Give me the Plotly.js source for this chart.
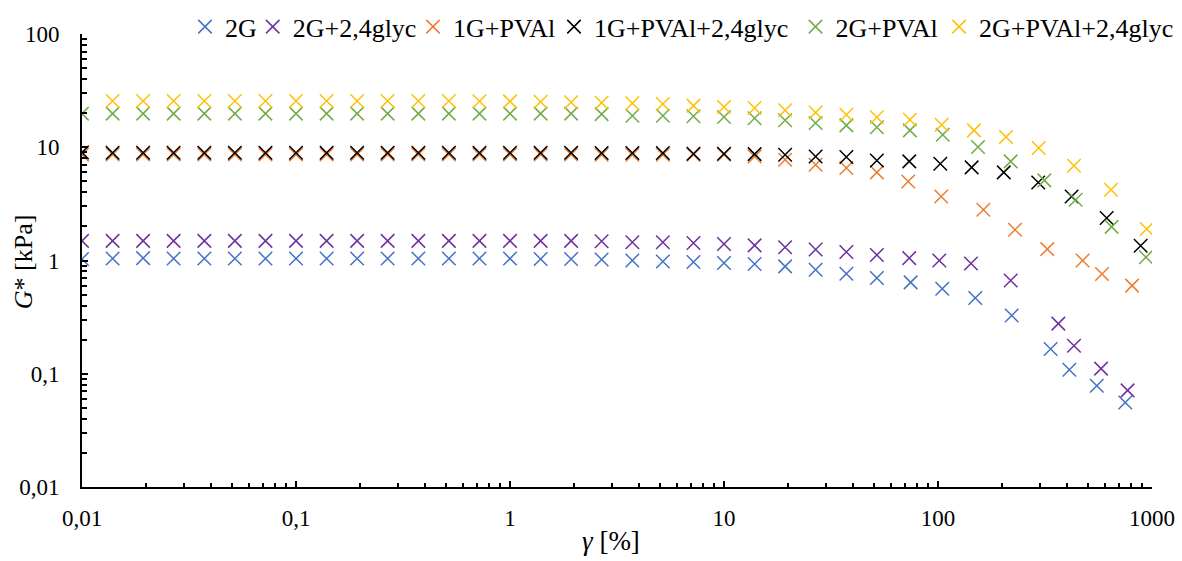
<!DOCTYPE html>
<html>
<head>
<meta charset="utf-8">
<script src="https://cdn.plot.ly/plotly-3.0.1.min.js"></script>
<style>
  html, body { margin: 0; padding: 0; background: #fff; }
  #chart { width: 1182px; height: 561px; }
</style>
</head>
<body>
<div id="chart"></div>
<script>
// Strain amplitude gamma [%] shared by all samples in the linear part (i = 0..26)
const gammaBase = [0.01, 0.0139, 0.0193, 0.0268, 0.0373, 0.0518, 0.072, 0.1, 0.139, 0.193,
  0.268, 0.373, 0.518, 0.72, 1, 1.39, 1.93, 2.68, 3.73, 5.18, 7.2, 10, 13.9, 19.3, 26.8, 37.3, 51.8];

// Measured strain at large amplitudes (differs per sample)
const gammaTail_2G        = [74.5, 104.7, 149.3, 221, 336, 411, 552, 750];
const gammaTail_2Gglyc    = [73.4, 101.4, 142.6, 218.6, 365, 432, 578, 769];
const gammaTail_1GPVAl    = [72.6, 103.5, 162.9, 229, 324, 474, 584, 807];
const gammaTail_1GPVAlgly = [73.4, 102.5, 143.6, 202.9, 294, 421, 614, 885];
const gammaTail_2GPVAl    = [73.9, 105.2, 153.8, 218.6, 314, 440, 648, 937];
const gammaTail_2GPVAlgly = [73.9, 104, 147.3, 207.9, 295.6, 432, 643, 944];

// G* [kPa]
const g_2G = [1.03, 1.04, 1.05, 1.04, 1.04, 1.04, 1.04, 1.04, 1.04, 1.04, 1.04, 1.04, 1.04, 1.04, 1.04, 1.03, 1.03,
  1.02, 1.0, 0.98, 0.97, 0.95, 0.93, 0.887, 0.83, 0.764, 0.70,
  0.641, 0.564, 0.467, 0.327, 0.1655, 0.1086, 0.0784, 0.0558];
const g_2Gglyc = [1.49, 1.49, 1.49, 1.49, 1.49, 1.49, 1.49, 1.49, 1.49, 1.49, 1.49, 1.49, 1.49, 1.49, 1.49, 1.49, 1.49,
  1.48, 1.45, 1.45, 1.43, 1.40, 1.36, 1.31, 1.25, 1.19, 1.12,
  1.05, 1.0, 0.94, 0.667, 0.277, 0.177, 0.111, 0.0713];
const g_1GPVAl = [8.6, 8.65, 8.65, 8.65, 8.65, 8.65, 8.65, 8.65, 8.65, 8.65, 8.65, 8.65, 8.65, 8.65, 8.65, 8.65, 8.65,
  8.6, 8.6, 8.6, 8.6, 8.6, 8.3, 7.76, 7.0, 6.56, 6.0,
  4.99, 3.68, 2.81, 1.87, 1.26, 1.0, 0.76, 0.60];
const g_1GPVAlgly = [9.0, 8.95, 8.95, 8.95, 8.95, 8.95, 8.95, 8.95, 8.95, 8.95, 8.95, 8.95, 8.95, 8.95, 8.95, 8.95, 8.95,
  8.9, 8.9, 8.9, 8.77, 8.77, 8.7, 8.6, 8.3, 8.2, 7.65,
  7.5, 7.16, 6.64, 6.0, 4.89, 3.68, 2.37, 1.35];
const g_2GPVAl = [19.8, 19.8, 19.8, 19.8, 19.8, 19.8, 19.8, 19.8, 19.8, 19.8, 19.8, 19.8, 19.8, 19.8, 19.8, 19.8, 19.8,
  19.6, 19.0, 19.0, 18.8, 18.5, 18.0, 17.3, 16.4, 15.6, 15.0,
  14.1, 12.9, 10.05, 7.5, 5.1, 3.44, 1.98, 1.07];
// this sample has no point at gamma = 0.01 (starts at the 2nd strain)
const g_2GPVAlgly = [25.6, 25.6, 25.6, 25.6, 25.6, 25.6, 25.6, 25.6, 25.6, 25.6, 25.6, 25.6, 25.5, 25.4, 25.2, 25.0,
  24.7, 24.5, 24.1, 23.3, 22.7, 22.2, 21.2, 20.3, 19.4, 18.4,
  17.5, 15.8, 14.1, 12.3, 9.85, 6.87, 4.22, 1.90];

const seriesNames = ['2G', '2G+2,4glyc', '1G+PVAl', '1G+PVAl+2,4glyc', '2G+PVAl', '2G+PVAl+2,4glyc'];
const seriesColors = ['#4472C4', '#7030A0', '#ED7D31', '#000000', '#70AD47', '#FFC000'];

const tickVals = [0.01, 0.1, 1, 10, 100, 1000];
const tickText = ['0,01', '0,1', '1', '10', '100', '1000'];

const seriesX = [
  gammaBase.concat(gammaTail_2G),
  gammaBase.concat(gammaTail_2Gglyc),
  gammaBase.concat(gammaTail_1GPVAl),
  gammaBase.concat(gammaTail_1GPVAlgly),
  gammaBase.concat(gammaTail_2GPVAl),
  gammaBase.slice(1).concat(gammaTail_2GPVAlgly)
];
const seriesY = [g_2G, g_2Gglyc, g_1GPVAl, g_1GPVAlgly, g_2GPVAl, g_2GPVAlgly];

const legendIds = ['legend', 'legend2', 'legend3', 'legend4', 'legend5', 'legend6'];

const traces = seriesNames.map((name, k) => ({
  type: 'scatter',
  mode: 'markers',
  name: name,
  legend: legendIds[k],
  x: seriesX[k],
  y: seriesY[k],
  marker: {
    symbol: 'x-thin',
    size: 13.5,
    color: seriesColors[k],
    line: { color: seriesColors[k], width: 1.5 }
  },
  hoverinfo: 'x+y+name'
}));

// minor tick positions (2..9 in each decade)
function minorTicks(lo, hi) {
  const out = [];
  for (let d = lo; d < hi; d++) {
    for (let m = 2; m <= 9; m++) out.push(m * Math.pow(10, d));
  }
  return out;
}

const font = 'Liberation Serif, Times New Roman, serif';
const plotL = 82, plotW = 1070, plotB = 487.3, plotH = 453;

// left edge (px) of each legend entry
const legendLeftPx = [185, 252.7, 413, 554, 795.5, 939];

const layout = {
  width: 1182,
  height: 561,
  margin: { l: plotL, r: 30, t: 34, b: 74, autoexpand: false },
  paper_bgcolor: '#ffffff',
  plot_bgcolor: '#ffffff',
  font: { family: font, size: 23, color: '#000' },
  showlegend: true,
  xaxis: {
    type: 'log',
    range: [-2, 3],
    tickmode: 'array',
    tickvals: tickVals,
    ticktext: tickText,
    ticks: 'inside',
    ticklen: 6,
    tickwidth: 1.5,
    tickcolor: '#000',
    ticklabelstandoff: 9,
    showline: true,
    linecolor: '#000',
    linewidth: 2,
    showgrid: false,
    zeroline: false,
    automargin: false,
    tickfont: { family: font, size: 23, color: '#000' },
    minor: {
      tickmode: 'array',
      tickvals: minorTicks(-2, 3),
      ticks: 'inside',
      ticklen: 4,
      tickwidth: 1.5,
      tickcolor: '#000',
      showgrid: false
    }
  },
  yaxis: {
    type: 'log',
    range: [-2, 2],
    tickmode: 'array',
    tickvals: tickVals.slice(0, 5),
    ticktext: tickText.slice(0, 5),
    ticks: 'inside',
    ticklen: 6,
    tickwidth: 1.5,
    tickcolor: '#000',
    ticklabelstandoff: 16,
    showline: true,
    linecolor: '#000',
    linewidth: 2,
    showgrid: false,
    zeroline: false,
    automargin: false,
    tickfont: { family: font, size: 23, color: '#000' },
    minor: {
      tickmode: 'array',
      tickvals: minorTicks(-2, 2),
      ticks: 'inside',
      ticklen: 5,
      tickwidth: 1.5,
      tickcolor: '#000',
      showgrid: false
    }
  },
  annotations: [
    {
      text: '<i>γ</i> [%]',
      xref: 'paper', yref: 'paper',
      x: (611 - plotL) / plotW, xanchor: 'center',
      y: (plotB - 541) / plotH, yanchor: 'middle',
      showarrow: false,
      font: { family: font, size: 27, color: '#000' }
    },
    {
      text: '<i>G</i>* [kPa]',
      xref: 'paper', yref: 'paper',
      x: (23 - plotL) / plotW, xanchor: 'center',
      y: (plotB - 262.5) / plotH, yanchor: 'middle',
      textangle: -90,
      showarrow: false,
      font: { family: font, size: 26, color: '#000' }
    }
  ]
};

legendIds.forEach((id, k) => {
  layout[id] = {
    orientation: 'h',
    x: (legendLeftPx[k] - plotL) / plotW, xanchor: 'left',
    y: (plotB - 27) / plotH, yanchor: 'middle',
    font: { family: font, size: 26, color: '#000' },
    itemwidth: 30,
    borderwidth: 0,
    bgcolor: 'rgba(0,0,0,0)'
  };
});

Plotly.newPlot('chart', traces, layout, { displayModeBar: false });
</script>
</body>
</html>
